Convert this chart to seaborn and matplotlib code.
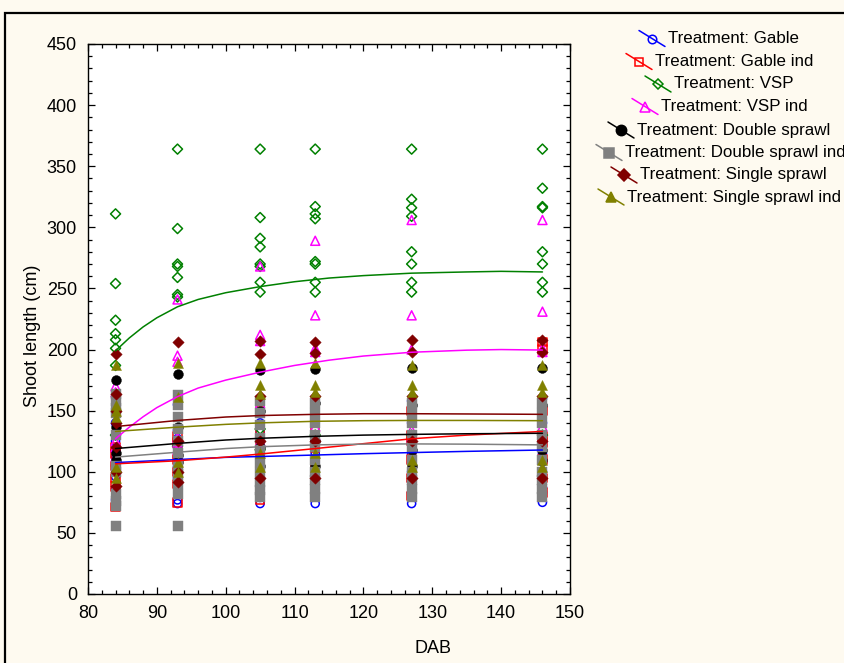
import numpy as np
import pandas as pd
import matplotlib
matplotlib.use("Agg")
import matplotlib.pyplot as plt
from matplotlib.lines import Line2D
from matplotlib.patches import Rectangle
import seaborn as sns

# ---------------- data ----------------
DAB = [84, 93, 105, 113, 127, 146]

treatments = ["Gable", "Gable ind", "VSP", "VSP ind", "Double sprawl",
              "Double sprawl ind", "Single sprawl", "Single sprawl ind"]

gable = [[77, 86, 96, 105, 112, 118, 125, 130, 140],
         [74, 77, 95, 104, 112, 120, 127, 134, 155],
         [74, 79, 90, 100, 108, 115, 125, 132, 140, 155],
         [74, 81, 92, 100, 108, 115, 122, 130, 140, 157],
         [74, 83, 92, 100, 108, 115, 122, 130, 140, 158],
         [75, 83, 87, 100, 108, 115, 122, 130, 140, 160]]
gable_ind = [[71, 88, 95, 105, 115, 120],
             [75, 90, 100, 110, 124, 129],
             [77, 90, 100, 110, 125, 133, 150],
             [80, 95, 105, 120, 126, 136, 150],
             [80, 95, 110, 125, 130, 150],
             [83, 95, 110, 124, 129, 150, 200, 206]]
vsp = [[311, 254, 224, 213, 208, 201, 187, 130],
       [364, 299, 270, 268, 259, 245, 243, 121],
       [364, 308, 291, 284, 270, 268, 255, 247, 135, 118],
       [364, 317, 311, 307, 272, 270, 255, 247, 130],
       [364, 323, 316, 309, 280, 270, 255, 247, 130],
       [364, 332, 317, 316, 280, 270, 255, 247, 130]]
vsp_ind = [[170, 165, 125, 120, 112],
           [241, 195, 190, 128, 124, 118],
           [268, 212, 207, 156, 125],
           [289, 228, 201, 198, 137, 130],
           [306, 228, 200, 134, 128],
           [306, 231, 201, 198, 137, 128]]
double = [[175, 137, 115, 110],
          [180, 137, 114, 108],
          [183, 150, 120, 105],
          [184, 156, 125, 105],
          [185, 155, 118, 105],
          [185, 155, 118, 110]]
double_ind = [[56, 72, 76, 82, 100, 105, 130, 148, 152, 158, 164],
              [56, 82, 90, 98, 105, 115, 125, 135, 145, 155, 163],
              [79, 85, 92, 100, 108, 118, 128, 138, 148, 158],
              [79, 86, 93, 100, 110, 120, 130, 140, 148, 156],
              [79, 86, 93, 100, 110, 120, 130, 140, 148, 156],
              [79, 86, 93, 100, 110, 120, 130, 140, 148, 156]]
single = [[196, 164, 150, 140, 120, 100, 88],
          [206, 125, 100, 92],
          [207, 196, 162, 125, 95],
          [206, 197, 162, 125, 95],
          [208, 198, 162, 125, 95],
          [208, 198, 162, 125, 95]]
single_ind = [[187, 155, 150, 145, 104, 95],
              [189, 161, 108, 100],
              [189, 171, 164, 115, 104],
              [189, 171, 165, 115, 104],
              [187, 171, 165, 110, 104],
              [187, 171, 165, 110, 104]]

# fitted curves
fit_x_dense = [84, 86, 88, 90, 93, 96, 100, 105, 110, 115, 120, 127, 135, 140, 146]
fit_vsp = [199, 209.5, 218.5, 226, 235, 241, 246.5, 251.5, 255.5, 258.5, 260.5,
           262.5, 263.5, 264, 263.5]
fit_vsp_ind = [127, 136.5, 145, 152.5, 161.5, 168.5, 175, 181.5, 187, 191.3, 194.7,
               197.8, 199.5, 200, 199.6]
fit_x = [84, 93, 100, 105, 113, 120, 127, 135, 146]
fit_gable = [107.5, 110, 111.8, 112.5, 113.7, 114.8, 115.7, 116.7, 117.8]
fit_gable_ind = [106.5, 109, 112, 114.5, 119, 123, 127, 130, 133]
fit_double = [119, 123.2, 126, 127.4, 129, 130, 130.6, 131.1, 131.5]
fit_double_ind = [112, 116, 119, 120.5, 122, 122.6, 122.8, 122.6, 122]
fit_single = [137, 142, 144.8, 146, 147, 147.5, 147.5, 147.3, 147]
fit_single_ind = [133, 136.5, 138.8, 140, 141.3, 141.8, 142, 142, 141.8]

# ---------------- styles ----------------
series = [gable, gable_ind, vsp, vsp_ind, double, double_ind, single, single_ind]
fits = [(fit_x, fit_gable), (fit_x, fit_gable_ind), (fit_x_dense, fit_vsp),
        (fit_x_dense, fit_vsp_ind), (fit_x, fit_double), (fit_x, fit_double_ind),
        (fit_x, fit_single), (fit_x, fit_single_ind)]
colors = ["#0000FF", "#FF0000", "#008000", "#FF00FF", "#000000", "#808080",
          "#800000", "#808000"]
markers = ["o", "s", "D", "^", "o", "s", "D", "^"]
filled = [False, False, False, False, True, True, True, True]
sizes = [34, 36, 26, 42, 50, 42, 34, 52]

rows = []
for name, ser in zip(treatments, series):
    for d, vals in zip(DAB, ser):
        for v in vals:
            rows.append((name, d, v))
df = pd.DataFrame(rows, columns=["Treatment", "DAB", "Shoot"])

sns.set_theme(style="white")
plt.rcParams["font.family"] = ["Liberation Sans", "DejaVu Sans"]

BG = "#FEFAF0"
W, H = 845, 663
fig = plt.figure(figsize=(W / 100, H / 100), dpi=100, facecolor=BG)
ax = fig.add_axes([88 / W, 1 - 594 / H, (570 - 88) / W, (594 - 44) / H])
ax.set_facecolor("white")

for i, name in enumerate(treatments):
    sub = df[df["Treatment"] == name]
    c = colors[i]
    if filled[i]:
        sns.scatterplot(data=sub, x="DAB", y="Shoot", marker=markers[i], s=sizes[i],
                        color=c, edgecolor=c, linewidth=0.3, ax=ax, legend=False,
                        zorder=3 + i)
    else:
        sns.scatterplot(data=sub, x="DAB", y="Shoot", marker=markers[i], s=sizes[i],
                        color=c, ax=ax, legend=False, zorder=3 + i, linewidth=1.1)
        coll = ax.collections[-1]
        coll.set_facecolor("none")
        coll.set_edgecolor(c)

for i, (fx, fy) in enumerate(fits):
    sns.lineplot(x=fx, y=fy, color=colors[i], lw=1.1, ax=ax, estimator=None,
                 sort=True, legend=False, zorder=20)

ax.set_xlim(80, 150)
ax.set_ylim(0, 450)
ax.set_xticks(np.arange(80, 151, 10))
ax.set_xticks(np.arange(80, 151, 2), minor=True)
ax.set_yticks(np.arange(0, 451, 50))
ax.set_yticks(np.arange(0, 451, 10), minor=True)
ax.tick_params(which="both", direction="in", top=True, right=True,
               bottom=True, left=True, color="black", width=0.9)
ax.tick_params(which="major", length=5, labelsize=13, pad=8, labelcolor="black")
ax.tick_params(which="minor", length=3)
for sp in ax.spines.values():
    sp.set_color("black")
    sp.set_linewidth(1.0)
ax.set_xlabel("DAB", fontsize=13, color="black")
ax.set_ylabel("Shoot length (cm)", fontsize=13, color="black")
ax.xaxis.set_label_coords((433 - 88) / 482, (594 - 640) / 550)
ax.yaxis.set_label_coords((41 - 88) / 482, (594 - 336) / 550)

# frame of the figure
fig.add_artist(Rectangle((5 / W, -0.1), 2, (1 - 13 / H) + 0.1, fill=False,
                         lw=1.6, edgecolor="black", transform=fig.transFigure))

# legend drawn manually (Statistica style: slanted line through marker)
row_y = [38.5, 61.5, 84, 106.5, 130, 152.5, 175, 197]
text_x = [668, 655, 674, 661, 637, 625, 640, 627]
for i, name in enumerate(treatments):
    c = colors[i]
    y = row_y[i]
    x1 = text_x[i] - 3
    x0 = x1 - 26
    fig.add_artist(Line2D([x0 / W, x1 / W], [1 - (y - 8) / H, 1 - (y + 8) / H],
                          color=c, lw=1.1, transform=fig.transFigure))
    mx = (x0 + x1) / 2
    fig.add_artist(Line2D([mx / W], [1 - y / H], marker=markers[i],
                          markersize=np.sqrt(sizes[i]) * 1.05,
                          markerfacecolor=c if filled[i] else "none",
                          markeredgecolor=c, markeredgewidth=1.1,
                          linestyle="none", transform=fig.transFigure))
    fig.text(text_x[i] / W, 1 - y / H, "Treatment: " + name, fontsize=12.2,
             ha="left", va="center", color="black")

fig.savefig("out.png", dpi=100, facecolor=BG)
